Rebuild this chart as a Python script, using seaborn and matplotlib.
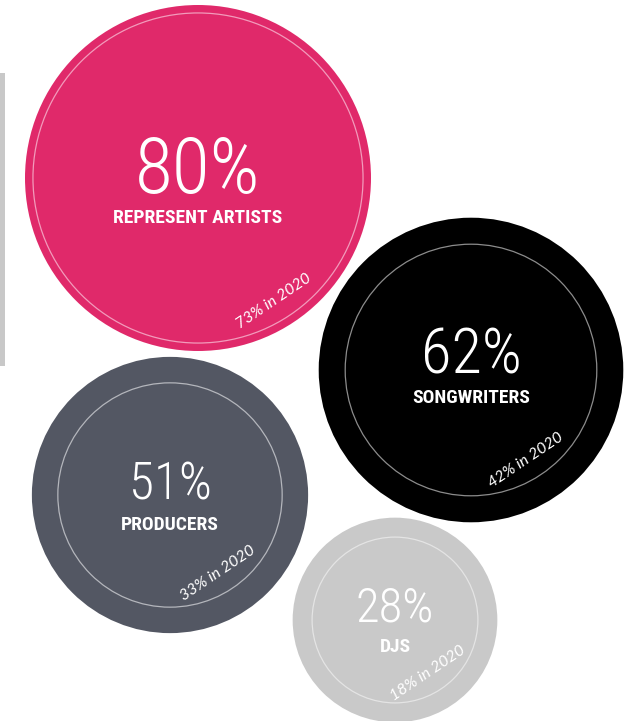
import numpy as np
import pandas as pd
import matplotlib
matplotlib.use("Agg")
import matplotlib.pyplot as plt
from matplotlib.patches import Rectangle
import seaborn as sns

# ---- data ----
categories = ["REPRESENT ARTISTS", "SONGWRITERS", "PRODUCERS", "DJS"]
share_2022 = [80, 62, 51, 28]
share_2020 = [73, 42, 33, 18]

# ---- layout / style (pixels, figure is 633 x 721) ----
cx = [198, 471, 170, 395]
cy = [178, 370, 495, 620]
fill_colors = ["#E0296A", "#000000", "#535763", "#C9C9C9"]
ring_colors = ["#F29BBB", "#8C8C8C", "#B4B6BC", "#E4E4E4"]
ring_ratio = [0.954, 0.826, 0.812, 0.81]
num_sizes = [56, 45, 37, 35]
num_dy = [15, 3, 5, 2]
R_MAX = 173.0  # px radius of the largest bubble (80%)

sns.set_theme(style="white")
plt.rcParams["font.family"] = ["Roboto", "DejaVu Sans"]

W, H, DPI = 633, 721, 100
fig = plt.figure(figsize=(W / DPI, H / DPI), dpi=DPI)
ax = fig.add_axes([0, 0, 1, 1])
ax.set_xlim(0, W)
ax.set_ylim(H, 0)
ax.axis("off")

df = pd.DataFrame({"category": categories, "share": share_2022,
                   "prev": share_2020, "x": cx, "y": cy})

px2pt = 72.0 / DPI
s_max = (2 * R_MAX * px2pt) ** 2  # marker area (pt^2) for the max value
sns.scatterplot(data=df, x="x", y="y", hue="category", size="share",
                palette=dict(zip(categories, fill_colors)),
                sizes=(0, s_max), size_norm=(0, 80), linewidth=0,
                legend=False, ax=ax, zorder=2)

# inner rings
radii = [R_MAX * np.sqrt(v / 80.0) for v in share_2022]
ring_r = [r * k for r, k in zip(radii, ring_ratio)]
ax.scatter(cx, cy, s=[(2 * r * px2pt) ** 2 for r in ring_r],
           facecolors="none", edgecolors=ring_colors, linewidths=0.9, zorder=3)

# left grey bar
ax.add_patch(Rectangle((0, 73), 5, 293, color="#C8C8C8", lw=0, zorder=1))

ang = np.deg2rad(58.5)
for i, cat in enumerate(categories):
    x0, y0 = cx[i], cy[i]
    base = y0 + num_dy[i]
    ax.text(x0, base, f"{share_2022[i]}%", ha="center", va="baseline",
            color="white", fontsize=num_sizes[i], fontweight="light",
            family=["Roboto Condensed", "Roboto", "DejaVu Sans"], zorder=4)
    ax.text(x0, base + 30, cat, ha="center", va="baseline", color="white",
            fontsize=14, fontweight="bold",
            family=["Roboto Condensed", "Roboto", "DejaVu Sans"], zorder=4)
    d = ring_r[i] - 20
    tx = x0 + d * np.cos(ang)
    ty = y0 + d * np.sin(ang)
    ax.text(tx, ty, f"{share_2020[i]}% in 2020", ha="center", va="center",
            rotation=34, rotation_mode="anchor", color="white",
            fontsize=11.5, style="italic", family=["Lato", "DejaVu Sans"],
            zorder=4)

fig.savefig("out.png", dpi=DPI, facecolor="white")
